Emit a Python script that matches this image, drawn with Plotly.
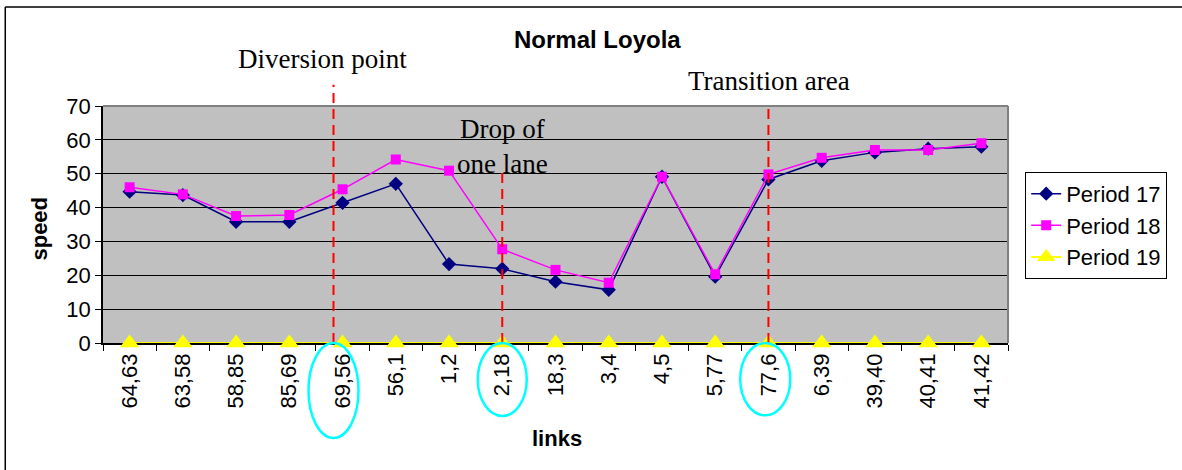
import plotly.graph_objects as go

links = ['64,63', '63,58', '58,85', '85,69', '69,56', '56,1', '1,2', '2,18', '18,3',
         '3,4', '4,5', '5,77', '77,6', '6,39', '39,40', '40,41', '41,42']
period_17 = [44.7, 43.7, 35.8, 35.8, 41.4, 47.0, 23.3, 21.9, 18.1,
             15.7, 49.1, 19.6, 48.3, 53.8, 56.3, 57.4, 58.0]
period_18 = [46.0, 43.9, 37.5, 37.8, 45.4, 54.2, 50.9, 27.7, 21.6,
             17.8, 49.1, 20.3, 49.8, 54.7, 57.0, 57.0, 59.0]
period_19 = [0] * 17

COLORS = {
    'p17': '#000080',
    'p18': '#FF00FF',
    'p19': '#FFFF00',
    'marker_red': '#FF0000',
    'circle': '#00FFFF',
    'plot_bg': '#C0C0C0',
}
ARIAL = 'Liberation Sans, Arial, sans-serif'
TIMES = 'Liberation Serif, Times New Roman, serif'

fig = go.Figure()
fig.add_trace(go.Scatter(
    x=links, y=period_17, name='Period 17', mode='lines+markers',
    line=dict(color=COLORS['p17'], width=1.5),
    marker=dict(symbol='diamond', size=11, color=COLORS['p17'])
))
fig.add_trace(go.Scatter(
    x=links, y=period_18, name='Period 18', mode='lines+markers',
    line=dict(color=COLORS['p18'], width=1.5),
    marker=dict(symbol='square', size=10, color=COLORS['p18'])
))
fig.add_trace(go.Scatter(
    x=links, y=period_19, name='Period 19', mode='lines+markers',
    line=dict(color=COLORS['p19'], width=2), cliponaxis=False,
    marker=dict(symbol='triangle-up', size=17, color=COLORS['p19'])
))

# red dashed markers for points of interest
dash_lines = [(3.83, 1.09), (7.0, 0.717), (12.0, 0.996)]
for xpos, ytop in dash_lines:
    fig.add_shape(type='line', xref='x', yref='paper',
                  x0=xpos, x1=xpos, y0=0, y1=ytop,
                  line=dict(color=COLORS['marker_red'], width=2, dash='10px,6px'))

# cyan ellipses around highlighted link labels
ellipses = [(3.36, 4.30, -0.401), (6.54, 7.46, -0.308), (11.47, 12.41, -0.305)]
for x0, x1, y0 in ellipses:
    fig.add_shape(type='circle', xref='x', yref='paper',
                  x0=x0, x1=x1, y0=y0, y1=0,
                  line=dict(color=COLORS['circle'], width=2.5))

# gray top/right frame of the plot area
fig.add_shape(type='line', xref='paper', yref='paper', x0=0, x1=1, y0=1, y1=1,
              line=dict(color='#808080', width=2))
fig.add_shape(type='line', xref='paper', yref='paper', x0=1, x1=1, y0=0, y1=1,
              line=dict(color='#808080', width=2))

# outer chart border (top and left visible)
fig.add_shape(type='line', xref='paper', yref='paper',
              x0=-0.108, x1=1.2, y0=1.418, y1=1.418,
              line=dict(color='black', width=1.5))
fig.add_shape(type='line', xref='paper', yref='paper',
              x0=-0.108, x1=-0.108, y0=-0.6, y1=1.418,
              line=dict(color='black', width=1.5))

texts = [
    ('<b>Normal Loyola</b>', 0.546, 1.282, ARIAL, 24, 0),
    ('Diversion point', 0.242, 1.198, TIMES, 27, 0),
    ('Transition area', 0.736, 1.105, TIMES, 27, 0),
    ('Drop of<br>one lane', 0.441, 0.83, TIMES, 27, 0),
    ('<b>links</b>', 0.502, -0.401, ARIAL, 22, 0),
    ('<b>speed</b>', -0.0696, 0.483, ARIAL, 22, -90),
]
for text, x, y, family, size, angle in texts:
    fig.add_annotation(text=text, xref='paper', yref='paper', x=x, y=y,
                       xanchor='center', yanchor='middle', showarrow=False,
                       align='center', textangle=angle,
                       font=dict(family=family, size=size, color='black'))

fig.update_layout(
    width=1182, height=470,
    font=dict(family=ARIAL, size=22, color='black'),
    paper_bgcolor='white',
    plot_bgcolor=COLORS['plot_bg'],
    margin=dict(l=103, r=174, t=106, b=127),
    showlegend=True,
    legend=dict(x=1.019, y=0.722, xanchor='left', yanchor='top',
                bordercolor='black', borderwidth=1, bgcolor='white',
                font=dict(family=ARIAL, size=22), tracegroupgap=0),
    xaxis=dict(type='category', range=[-0.5, 16.5], tickangle=-90,
               tickson='boundaries',
               ticks='outside', ticklen=6, tickcolor='black',
               showline=True, linecolor='black', linewidth=1.5,
               showgrid=False, layer='below traces',
               tickfont=dict(family=ARIAL, size=22)),
    yaxis=dict(range=[0, 70], dtick=10, ticks='outside', ticklen=6,
               tickcolor='black', showline=True, linecolor='black', linewidth=1.5,
               showgrid=True, gridcolor='black', gridwidth=1, zeroline=False,
               layer='below traces',
               tickfont=dict(family=ARIAL, size=22)),
)

fig.write_html('out.html', config={'displayModeBar': False},
               post_script="document.body.style.margin='0';")
